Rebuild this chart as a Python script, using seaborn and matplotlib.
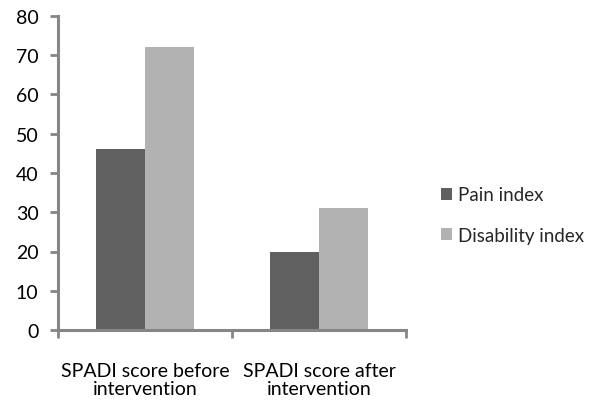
import pandas as pd
import seaborn as sns
import matplotlib.pyplot as plt

sns.set_theme(style="white")
plt.rcParams['font.family'] = ['Lato', 'DejaVu Sans']

categories = ['SPADI score before\nintervention', 'SPADI score after\nintervention']
series = ['Pain index', 'Disability index']
pain = [46, 20]
disability = [72, 31]
colors = ['#606060', '#b2b2b2']

data = pd.DataFrame({
    'category': categories * 2,
    'series': [series[0]] * 2 + [series[1]] * 2,
    'value': pain + disability,
})

fig = plt.figure(figsize=(5.96, 4.06), dpi=100)
ax = fig.add_axes([58 / 596, 1 - 331 / 406, 348 / 596, 314 / 406])

sns.barplot(data=data, x='category', y='value', hue='series', palette=colors,
            width=0.565, saturation=1, linewidth=0, ax=ax, legend=True)

ax.set_ylim(0, 80)
ax.set_xlim(-0.5, 1.5)
ax.set_yticks(range(0, 81, 10))
ax.set_xlabel('')
ax.set_ylabel('')

axis_color = '#868686'
for side in ['top', 'right']:
    ax.spines[side].set_visible(False)
for side in ['left', 'bottom']:
    ax.spines[side].set_color(axis_color)
    ax.spines[side].set_linewidth(2.2)

ax.tick_params(axis='y', direction='out', length=6, width=2, color=axis_color,
               labelsize=14, labelcolor='black', pad=8, left=True)
ax.tick_params(axis='x', which='major', length=0, labelsize=14, labelcolor='black', pad=23)
ax.set_xticks([-0.5, 0.5, 1.5], minor=True)
ax.tick_params(axis='x', which='minor', direction='out', length=6, width=2, color=axis_color, bottom=True)
for lbl in ax.get_xticklabels():
    lbl.set_linespacing(1.05)

ax.get_legend().remove()
handles, labels = ax.get_legend_handles_labels()
fig.legend(handles, labels, loc='center left', bbox_to_anchor=(424 / 596, 1 - 216 / 406),
           frameon=False, fontsize=13.5, handlelength=0.6, handleheight=0.6,
           handletextpad=0.3, labelspacing=1.25)

fig.savefig('out.png', dpi=100)
